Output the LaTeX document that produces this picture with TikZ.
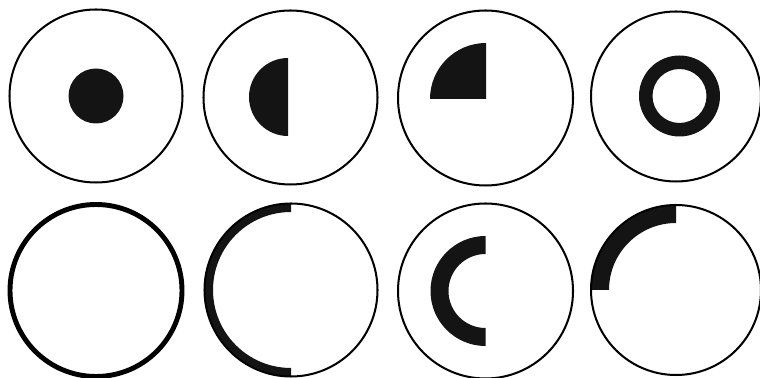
\documentclass[tikz,border=0pt]{standalone}
\usepackage{tikz}
\usetikzlibrary{positioning}

\begin{document}
\begin{tikzpicture}[x=0.02cm, y=0.02cm, line join=round]
    \useasboundingbox (0,0) rectangle (760,378);
    % Mittelpunkte der Kreise
    \coordinate (K1) at (96,282);
    \coordinate (K2) at (290.5,280.5);
    \coordinate (K3) at (485.5,280);
    \coordinate (K4) at (676,281.5);
    \coordinate (K5) at (96,87.5);
    \coordinate (K6) at (291,88);
    \coordinate (K7) at (485.5,87);
    \coordinate (K8) at (676,88);
    % obere Reihe
    \fill[black!92] (K1) circle (27.5);
    \draw[line width=1.15pt] (K1) circle (86.5);
    \coordinate (H2) at (288,281);
    \fill[black!92] (H2) ++(90:39) arc[start angle=90, end angle=270, radius=39] -- cycle;
    \draw[line width=1.15pt] (K2) circle (87);
    \fill[black!92] (K3) ++(0.5,-1) -- ++(90:56) arc[start angle=90, end angle=180, radius=56] -- cycle;
    \draw[line width=1.15pt] (K3) circle (87.5);
    \coordinate (R4) at (679.5,282);
    \fill[black!92, even odd rule] (R4) circle (40.5) (R4) circle (27);
    \draw[line width=1.15pt] (K4) circle (85);
    % untere Reihe
    \draw[line width=2.8pt] (K5) circle (86);
    \fill[black!92] (K6) ++(90:86.5) arc[start angle=90, end angle=270, radius=86.5]
        -- ++(0,8.5) arc[start angle=270, end angle=90, radius=78] -- cycle;
    \draw[line width=1.15pt] (K6) circle (86.5);
    \fill[black!92] (K7) ++(90:55) arc[start angle=90, end angle=270, radius=55]
        -- ++(0,18) arc[start angle=270, end angle=90, radius=37] -- cycle;
    \draw[line width=1.15pt] (K7) circle (87.5);
    \fill[black!92] (K8) ++(90:85) arc[start angle=90, end angle=180, radius=85]
        -- ++(18,0) arc[start angle=180, end angle=90, radius=67] -- cycle;
    \draw[line width=1.15pt] (K8) circle (85);
\end{tikzpicture}
\end{document}
